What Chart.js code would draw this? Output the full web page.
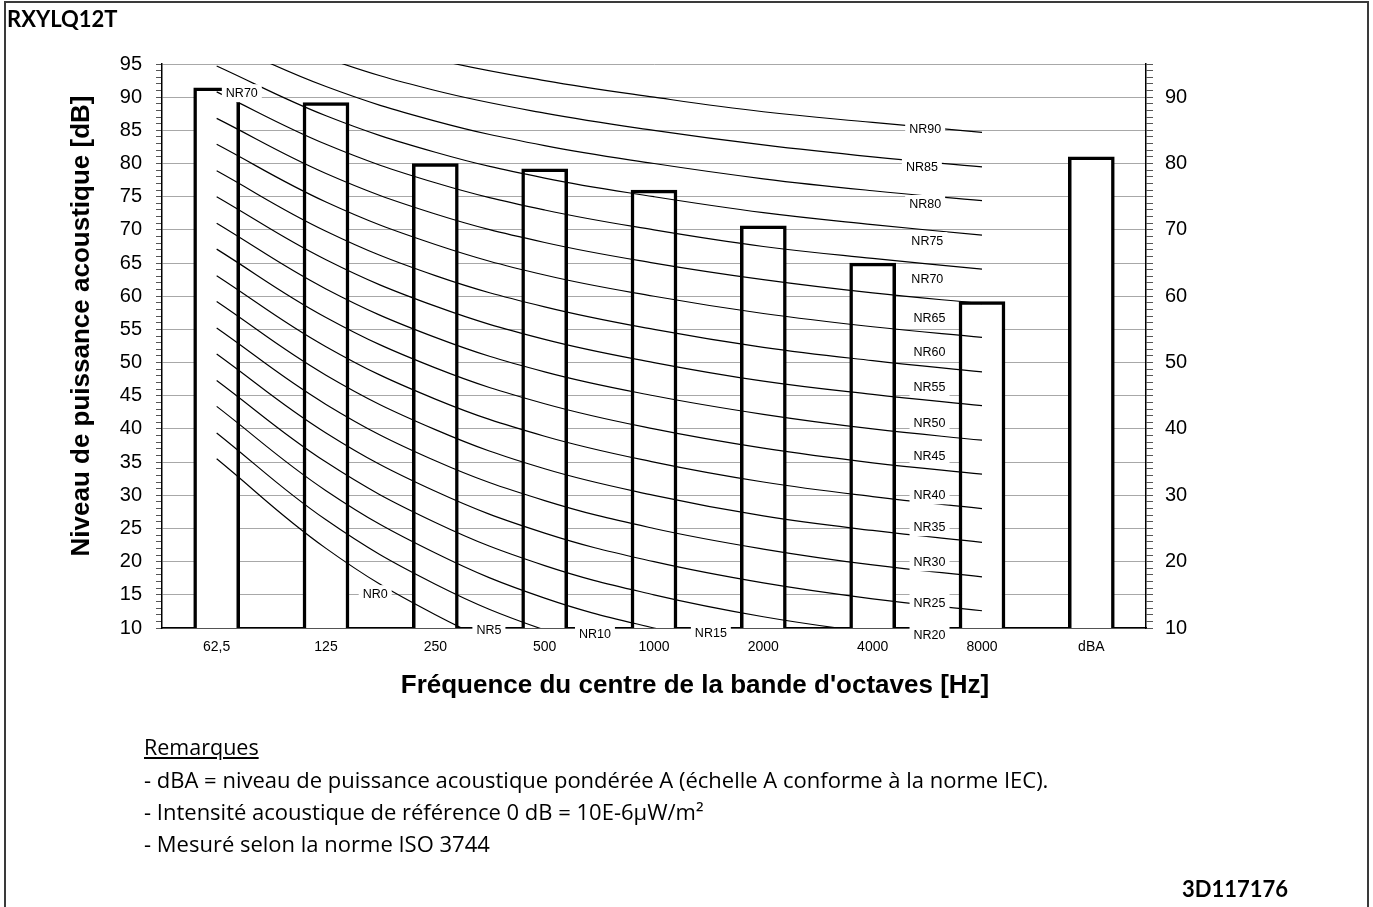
<!DOCTYPE html>
<html>
<head>
<meta charset="utf-8">
<title>RXYLQ12T - Niveau de puissance acoustique</title>
<script src="https://cdn.jsdelivr.net/npm/chart.js@4.4.1/dist/chart.umd.min.js"></script>
<style>
  html, body { margin: 0; padding: 0; background: #fff; }
  #sheet { position: relative; width: 1373px; height: 907px; overflow: hidden; background: #fff; }
  #frame { position: absolute; left: 4px; top: 1px; width: 1365px; height: 940px; border: 2px solid #3a3a3a; box-sizing: border-box; }
  #chart { position: absolute; left: 0; top: 0; }
  .txt { position: absolute; font-family: Lato, "Open Sans", sans-serif; color: #000; white-space: nowrap; }
  .notes { font-family: "Open Sans", Lato, sans-serif; font-size: 22px; line-height: 32px; }
  .bold { font-weight: 700; }
</style>
</head>
<body>
<div id="sheet">
  <div id="frame"></div>
  <canvas id="chart" width="1373" height="907"></canvas>
  <div class="txt bold" style="left:7px; top:4px; font-size:22px; line-height:30px;">RXYLQ12T</div>
  <div class="txt notes" style="left:144px; top:731px; font-size:21.5px;"><span style="text-decoration:underline;">Remarques</span></div>
  <div class="txt notes" style="left:144px; top:763px;">- dBA = niveau de puissance acoustique pondérée A (échelle A conforme à la norme IEC).</div>
  <div class="txt notes" style="left:144px; top:795px;">- Intensité acoustique de référence 0 dB = 10E-6µW/m²</div>
  <div class="txt notes" style="left:144px; top:827px;">- Mesuré selon la norme ISO 3744</div>
  <div class="txt bold" style="left:1182px; top:874px; font-size:22px; line-height:30px;">3D117176</div>
</div>
<script>
// Octave band centre frequencies plus the overall A-weighted value
const categories = ['62,5', '125', '250', '500', '1000', '2000', '4000', '8000', 'dBA'];

// Sound power level per band [dB]
const soundPower = [91.4, 89.2, 80.0, 79.2, 76.0, 70.6, 65.0, 59.2, 81.0];

// Noise Rating curves, one value per octave band (62,5 ... 8000 Hz)
const NR0  = [35.5, 22.0, 12.0,  4.8,  0.0, -3.5, -6.1, -8.0];
const NR5  = [39.4, 26.3, 16.6,  9.7,  5.0,  1.6, -1.0, -2.8];
const NR10 = [43.4, 30.7, 21.3, 14.5, 10.0,  6.6,  4.2,  2.3];
const NR15 = [47.3, 35.0, 25.9, 19.4, 15.0, 11.7,  9.3,  7.4];
const NR20 = [51.3, 39.4, 30.6, 24.3, 20.0, 16.8, 14.4, 12.6];
const NR25 = [55.2, 43.7, 35.2, 29.2, 25.0, 21.9, 19.5, 17.7];
const NR30 = [59.2, 48.1, 39.9, 34.0, 30.0, 26.9, 24.7, 22.9];
const NR35 = [63.1, 52.4, 44.5, 38.9, 35.0, 32.0, 29.8, 28.0];
const NR40 = [67.1, 56.8, 49.2, 43.8, 40.0, 37.1, 34.9, 33.2];
const NR45 = [71.0, 61.1, 53.8, 48.6, 45.0, 42.2, 40.0, 38.3];
const NR50 = [75.0, 65.5, 58.5, 53.5, 50.0, 47.2, 45.2, 43.5];
const NR55 = [78.9, 69.8, 63.1, 58.4, 55.0, 52.3, 50.3, 48.6];
const NR60 = [82.9, 74.2, 67.8, 63.2, 60.0, 57.4, 55.4, 53.8];
const NR65 = [86.8, 78.5, 72.4, 68.1, 65.0, 62.5, 60.5, 58.9];
const NR70 = [90.8, 82.9, 77.1, 73.0, 70.0, 67.5, 65.7, 64.1];
const NR75 = [94.7, 87.2, 81.7, 77.8, 75.0, 72.6, 70.8, 69.2];
const NR80 = [98.7, 91.6, 86.4, 82.7, 80.0, 77.7, 75.9, 74.4];
const NR85 = [102.6, 95.9, 91.0, 87.6, 85.0, 82.8, 81.0, 79.5];
const NR90 = [106.6, 100.3, 95.7, 92.5, 90.0, 87.8, 86.2, 84.7];

const nrNames  = ['NR0', 'NR5', 'NR10', 'NR15', 'NR20', 'NR25', 'NR30', 'NR35', 'NR40', 'NR45',
                  'NR50', 'NR55', 'NR60', 'NR65', 'NR70', 'NR75', 'NR80', 'NR85', 'NR90'];
const nrValues = [NR0, NR5, NR10, NR15, NR20, NR25, NR30, NR35, NR40, NR45,
                  NR50, NR55, NR60, NR65, NR70, NR75, NR80, NR85, NR90];

// Where each curve name sits: category position and level [dB]
const nrLabelText  = ['NR0', 'NR5', 'NR10', 'NR15', 'NR20', 'NR25', 'NR30', 'NR35', 'NR40', 'NR45',
                      'NR50', 'NR55', 'NR60', 'NR65', 'NR70', 'NR75', 'NR80', 'NR85', 'NR90', 'NR70'];
const nrLabelAt    = [1.45, 2.49, 3.46, 4.52, 6.52, 6.52, 6.52, 6.52, 6.52, 6.52,
                      6.52, 6.52, 6.52, 6.52, 6.50, 6.50, 6.48, 6.45, 6.48, 0.23];
const nrLabelLevel = [15.1, 9.7, 9.05, 9.3, 8.95, 13.8, 19.9, 25.2, 30.0, 35.9,
                      40.9, 46.3, 51.6, 56.7, 62.6, 68.3, 73.9, 79.5, 85.2, 90.6];

const FONT = '"Liberation Sans", Arial, Helvetica, sans-serif';
Chart.defaults.font.family = FONT;
Chart.defaults.color = '#000';

const W = 1373, H = 907;
const plotLeft = 162, plotRight = 1146, plotTop = 64, plotBottom = 628;

const curveSets = nrValues.map((vals, i) => ({
  type: 'line',
  label: nrNames[i],
  data: vals.concat([null]),
  borderColor: '#000',
  borderWidth: 1.2,
  pointRadius: 0,
  tension: 0.4,
  fill: false,
  order: 1
}));

const barSet = {
  type: 'bar',
  label: 'Lw',
  data: soundPower,
  backgroundColor: '#fff',
  borderColor: '#000',
  borderWidth: 3.5,
  borderSkipped: false,
  barThickness: 46,
  order: 2
};

// Curve names with a white box behind them
const curveNames = {
  id: 'curveNames',
  afterDatasetsDraw(chart) {
    const { ctx } = chart;
    const xs = chart.scales.x, ys = chart.scales.y;
    ctx.save();
    ctx.font = '12.5px ' + FONT;
    ctx.textAlign = 'center';
    ctx.textBaseline = 'middle';
    nrLabelText.forEach((t, i) => {
      const px = xs.getPixelForValue(nrLabelAt[i]);
      const py = ys.getPixelForValue(nrLabelLevel[i]);
      const w = ctx.measureText(t).width + 8;
      ctx.fillStyle = '#fff';
      ctx.fillRect(px - w / 2, py - 9, w, 18);
      ctx.fillStyle = '#000';
      ctx.fillText(t, px, py + 0.5);
    });
    ctx.restore();
  }
};

// Axis titles
const axisTitles = {
  id: 'axisTitles',
  afterDraw(chart) {
    const { ctx } = chart;
    ctx.save();
    ctx.font = 'bold 26px ' + FONT;
    ctx.fillStyle = '#000';
    ctx.textAlign = 'center';
    ctx.textBaseline = 'middle';
    ctx.fillText("Fréquence du centre de la bande d'octaves [Hz]", 695, 686);
    ctx.translate(82, 326);
    ctx.rotate(-Math.PI / 2);
    ctx.fillText('Niveau de puissance acoustique [dB]', 0, 0);
    ctx.restore();
  }
};

new Chart(document.getElementById('chart'), {
  type: 'bar',
  data: { labels: categories, datasets: curveSets.concat([barSet]) },
  options: {
    responsive: false,
    devicePixelRatio: 1,
    animation: false,
    events: [],
    layout: { autoPadding: false, padding: { left: 0, right: 0, top: plotTop, bottom: 0 } },
    plugins: { legend: { display: false }, tooltip: { enabled: false }, title: { display: false } },
    scales: {
      x: {
        offset: true,
        grid: { display: false, drawTicks: false },
        border: { display: true, color: '#000', width: 1.5 },
        ticks: { font: { size: 14 }, padding: 11, maxRotation: 0, autoSkip: false },
        afterFit(s) { s.height = H - plotBottom; }
      },
      y: {
        position: 'left',
        min: 10, max: 95,
        ticks: {
          stepSize: 1, autoSkip: false, maxTicksLimit: 200,
          font: { size: 20 }, padding: 14,
          callback: v => (v % 5 === 0 ? String(v) : '')
        },
        grid: {
          color: c => (c.tick && c.tick.value % 5 === 0 ? '#a8a8a8' : 'rgba(0,0,0,0)'),
          tickColor: '#555',
          tickLength: 6,
          lineWidth: 1
        },
        border: { display: true, color: '#000', width: 1.5 },
        afterFit(s) { s.width = plotLeft; }
      },
      y2: {
        position: 'right',
        min: 10, max: 95,
        ticks: {
          stepSize: 1, autoSkip: false, maxTicksLimit: 200,
          font: { size: 20 }, padding: 12,
          callback: v => (v % 10 === 0 ? String(v) : '')
        },
        grid: { drawOnChartArea: false, tickColor: '#555', tickLength: 7 },
        border: { display: true, color: '#000', width: 1.5 },
        afterFit(s) { s.width = W - plotRight; }
      }
    }
  },
  plugins: [curveNames, axisTitles]
});
</script>
</body>
</html>
